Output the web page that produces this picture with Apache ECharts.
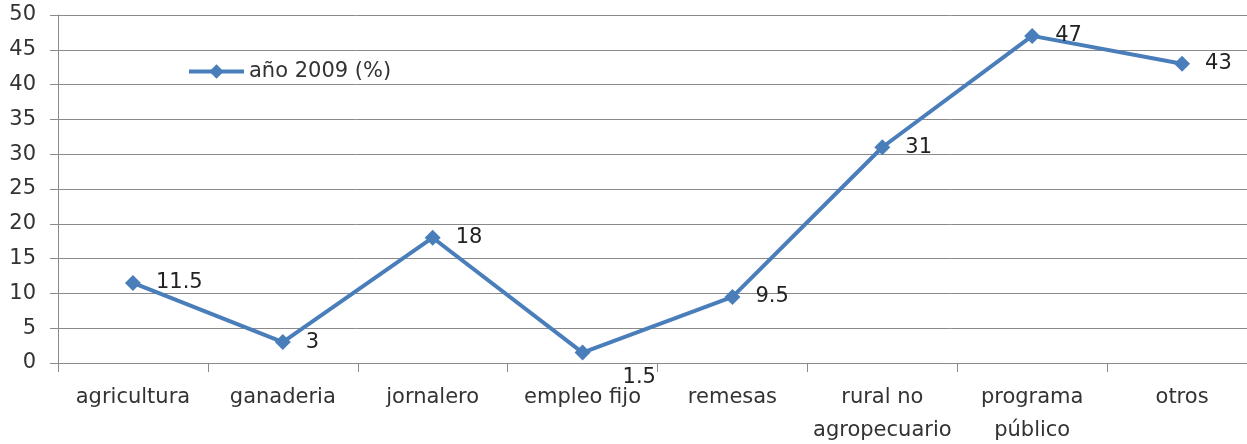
<!DOCTYPE html>
<html>
<head>
<meta charset="utf-8">
<script src="https://cdn.jsdelivr.net/npm/echarts@6/dist/echarts.min.js"></script>
<style>
  html, body { margin: 0; padding: 0; background: #ffffff; }
  #chart { width: 1247px; height: 444px; }
</style>
</head>
<body>
<div id="chart"></div>
<script>
// Income sources, share of households (%)
const categories = ['agricultura', 'ganaderia', 'jornalero', 'empleo fijo', 'remesas', 'rural no\nagropecuario', 'programa\npúblico', 'otros'];
const values2009 = [11.5, 3, 18, 1.5, 9.5, 31, 47, 43];
const seriesName = 'año 2009 (%)';

const FONT = '"DejaVu Sans", sans-serif';
const TEXT = '#333333';
const GRID = '#8a8a8a';
const BLUE = '#4a7ebb';

const chart = echarts.init(document.getElementById('chart'), null, { renderer: 'canvas' });

const seriesData = values2009.map((v) => {
  const item = { value: v };
  // the small value near the axis has its label pushed down-right
  if (v === 1.5) item.label = { offset: [17, 25] };
  return item;
});

chart.setOption({
  backgroundColor: '#ffffff',
  animation: false,
  grid: {
    left: 58, top: 15, width: 1199, height: 348,
    containLabel: false, outerBoundsMode: 'none'
  },
  legend: {
    left: 187, top: 61, padding: 0,
    itemWidth: 55, itemHeight: 18,
    lineStyle: { width: 4 },
    textStyle: { fontFamily: FONT, fontSize: 21, color: TEXT },
    data: [seriesName]
  },
  xAxis: {
    type: 'category',
    data: categories,
    boundaryGap: true,
    axisLine: { lineStyle: { color: GRID, width: 1 } },
    axisTick: { show: true, length: 9, lineStyle: { color: GRID } },
    axisLabel: { fontFamily: FONT, fontSize: 21, color: TEXT, margin: 18, lineHeight: 33, interval: 0 },
    splitLine: { show: false }
  },
  yAxis: {
    type: 'value',
    min: 0, max: 50, interval: 5,
    axisLine: { show: true, lineStyle: { color: GRID, width: 1 } },
    axisTick: { show: true, length: 8, lineStyle: { color: GRID } },
    axisLabel: { fontFamily: FONT, fontSize: 21, color: TEXT, margin: 22 },
    splitLine: { show: true, lineStyle: { color: GRID, width: 1 } }
  },
  series: [{
    name: seriesName,
    type: 'line',
    data: seriesData,
    symbol: 'diamond',
    symbolSize: 16,
    lineStyle: { color: BLUE, width: 4 },
    itemStyle: { color: BLUE },
    label: {
      show: true, position: 'right', distance: 15,
      fontFamily: FONT, fontSize: 21, color: '#222222'
    }
  }]
});
</script>
</body>
</html>
